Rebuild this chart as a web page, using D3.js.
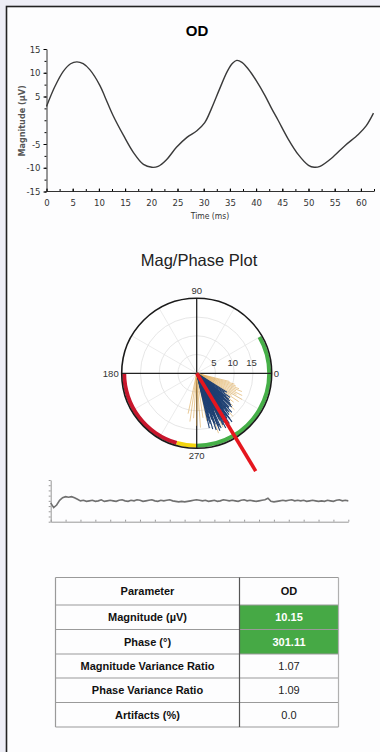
<!DOCTYPE html>
<html>
<head>
<meta charset="utf-8">
<script src="https://cdn.jsdelivr.net/npm/d3@7"></script>
<style>
  body { margin: 0; background: #eeeef6; }
  svg { display: block; }
  .narrow { font-family: "Liberation Sans Narrow", "DejaVu Sans Condensed", "Liberation Sans", sans-serif; }
</style>
</head>
<body>
<script>
// waveform (time in ms, magnitude in uV)
let waveTime = [0, 1.6, 3.2, 4.6, 5.8, 7.0, 8.3, 10.2, 11.2, 12.7, 14.7, 16.6, 18.5, 20.1, 21.3, 22.9, 24.8, 26.8, 28.7, 30.2,
                31.5, 33.0, 34.5, 35.5, 36.3, 37.3, 38.5, 40.0, 41.7, 43.0, 44.2, 46.1, 48.1, 50.0, 51.1, 52.2, 54.4, 57.0, 59.5, 61.0, 62.4];
let waveMag = [2.9, 7.1, 10.3, 11.9, 12.3, 11.9, 10.6, 7.3, 4.8, 1.0, -3.2, -6.8, -9.3, -9.9, -9.7, -8.3, -5.7, -3.6, -2.2, -0.5,
               2.5, 6.5, 10.3, 12.0, 12.6, 12.2, 10.8, 8.4, 5.2, 2.4, 0.0, -3.9, -7.3, -9.5, -9.9, -9.7, -8.0, -5.3, -3.0, -1.2, 1.5];
let xTicks = [0, 5, 10, 15, 20, 25, 30, 35, 40, 45, 50, 55, 60];
let yTickLabels = [15, 10, 5, -5, -10, -15];

// single sweep vectors [phase deg, magnitude]
let blueVectors = [[283,15],[285,14],[286,15.5],[288,13],[289,16],[290,14.5],[291,12],[292,15],[293,13.5],[294,16],
                   [295,11],[296,14],[297,15.5],[298,12.5],[299,14],[300,16],[301,13],[302,15],[303,11.5],[304,14.5],
                   [305,13],[306,15],[307,12],[308,14],[309,10.5],[310,13.5],[311,12],[312,14],[313,11],[314,12.5],
                   [315,10],[316,13],[317,11],[318,12],[319,9.5],[320,11.5],[322,10],[324,11],[326,9],[328,9.5],
                   [287,11],[291,9],[296,10],[300,10.5],[304,9],[308,11],[312,8.5],[294,12],[298,16.5],[302,12],
                   [306,16],[285,12],[284,13],[289,14],[293,15.5],[297,13],[301,15.5],[305,14],[309,13],[313,12.5],
                   [317,12.5],[321,11],[292,16.5],[299,15],[303,16]];
let orangeVectors = [[258,11],[262,13],[266,12],[270,14],[272,10],[274,14.5],[278,12],[282,13],[286,11],[290,17],
                     [296,16],[310,15],[316,14],[318,13],[322,12.5],[326,13.5],[328,11],[330,14],[332,12],[334,13.5],
                     [336,11.5],[338,13],[340,12],[342,11],[344,10.5],[346,9]];
let meanPhase = 301.11;
let meanMag = 10.15;
let ringLabels = [5, 10, 15];
let angleLabels = [0, 90, 180, 270];
// phase zones [from, to, colour]
let zoneFrom = [270, 180, 254];
let zoneTo = [390, 254, 270];
let zoneColor = ["#46b048", "#c8162c", "#f2d40f"];

// noise trace
let traceValues = [3.6, 2.7, 3.2, 4.1, 4.6, 4.8, 4.7, 4.8, 4.6, 4.3, 4.0,
                   4.1, 3.9, 4.0, 4.1, 3.9, 4.0, 4.2, 3.9, 4.0, 4.1, 4.0, 3.9, 4.1, 4.2, 4.0, 3.9, 4.1, 4.0, 4.2, 4.1,
                   3.9, 4.0, 4.1, 4.2, 4.0, 3.9, 4.1, 4.0, 4.1, 4.2, 4.0, 3.9, 3.8, 3.9, 3.8, 3.9, 4.0, 4.1, 4.2, 4.1,
                   4.0, 4.1, 3.9, 4.0, 4.1, 3.9, 4.0, 4.2, 4.1, 4.0, 4.1, 4.0, 3.9, 4.1, 4.2, 4.0, 4.1, 4.0, 3.9, 4.0,
                   4.1, 4.2, 4.5, 3.9, 3.8, 3.9, 4.0, 4.1, 4.0, 4.1, 4.2, 4.0, 4.1, 4.0, 4.1, 3.9, 4.0, 4.1, 4.0, 3.9,
                   4.0, 3.9, 4.1, 4.0, 3.9, 4.1, 4.2, 4.0, 4.1, 4.0];

// results table
let paramLabels = ["Magnitude (µV)", "Phase (°)", "Magnitude Variance Ratio", "Phase Variance Ratio", "Artifacts (%)"];
let paramValues = ["10.15", "301.11", "1.07", "1.09", "0.0"];
let passRows = ["Magnitude (µV)", "Phase (°)"];

let svg = d3.select("body").append("svg")
    .attr("width", 380)
    .attr("height", 752);

// panel
svg.append("rect")
    .attr("x", 6.5).attr("y", 6.5)
    .attr("width", 420).attr("height", 800)
    .attr("fill", "#fdfdfe")
    .attr("stroke", "#222").attr("stroke-width", 1.6);

// ---------- waveform ----------
let x = d3.scaleLinear().domain([0, 62.5]).range([46.5, 374]);
let y = d3.scaleLinear().domain([-15, 15]).range([191.5, 49]);

svg.append("text")
    .attr("x", 197).attr("y", 36)
    .attr("text-anchor", "middle")
    .style("font", "bold 15px 'Liberation Sans', Arial, sans-serif")
    .text("OD");

// minor ticks
let xAxisG = svg.append("g")
    .attr("transform", "translate(0,191.5)")
    .call(d3.axisBottom(x).tickValues(d3.range(0, 63, 2.5)).tickSize(-2.5).tickFormat(""));
xAxisG.select(".domain").remove();
svg.append("g")
    .attr("class", "narrow")
    .attr("transform", "translate(0,191.5)")
    .call(d3.axisBottom(x).tickValues(xTicks).tickSize(-3).tickPadding(8).tickSizeOuter(0)
        .tickFormat(function(d){ return String(d); }))
    .call(g => g.selectAll("text").style("font-size", "9.5px").attr("fill", "#333"))
    .call(g => g.select(".domain").attr("d", "M46.5,0H374").attr("stroke", "#333"));

svg.append("g")
    .attr("transform", "translate(46.5,0)")
    .call(d3.axisLeft(y).tickValues(d3.range(-15, 15.1, 2.5)).tickSize(2).tickFormat(""))
    .call(g => g.select(".domain").remove());
svg.append("g")
    .attr("class", "narrow")
    .attr("transform", "translate(46.5,0)")
    .call(d3.axisLeft(y).tickValues(yTickLabels).tickSize(3).tickPadding(3).tickSizeOuter(0)
        .tickFormat(function(d){ return String(d); }))
    .call(g => g.selectAll("text").style("font-size", "9.5px").attr("fill", "#333"))
    .call(g => g.select(".domain").attr("stroke", "#333"));

// axis titles
svg.append("text")
    .attr("class", "narrow")
    .attr("transform", "translate(25,121) rotate(-90)")
    .attr("text-anchor", "middle")
    .style("font-size", "9px").style("font-weight", "bold").attr("fill", "#555")
    .text("Magnitude (µV)");
svg.append("text")
    .attr("class", "narrow")
    .attr("x", 210).attr("y", 219)
    .attr("text-anchor", "middle")
    .style("font-size", "8.5px").attr("fill", "#333")
    .text("Time (ms)");

let waveLine = d3.line()
    .x(function(d, i){ return x(waveTime[i]); })
    .y(function(d){ return y(d); })
    .curve(d3.curveCatmullRom);
svg.append("path")
    .datum(waveMag)
    .attr("d", waveLine)
    .attr("fill", "none")
    .attr("stroke", "#3a3a3a")
    .attr("stroke-width", 1.4);

// ---------- polar plot ----------
let cx = 196.7, cy = 373.3, R = 75;
let r = d3.scaleLinear().domain([0, 20]).range([0, R]);
let rad = function(a){ return a * Math.PI / 180; };
let px = function(a, m){ return cx + r(m) * Math.cos(rad(a)); };
let py = function(a, m){ return cy - r(m) * Math.sin(rad(a)); };

svg.append("text")
    .attr("x", 199).attr("y", 266)
    .attr("text-anchor", "middle")
    .style("font", "16.5px 'Liberation Sans', Arial, sans-serif")
    .attr("fill", "#222")
    .text("Mag/Phase Plot");

let polar = svg.append("g");

polar.append("circle")
    .attr("cx", cx).attr("cy", cy).attr("r", R)
    .attr("fill", "#fff");

// grid rings and spokes
polar.selectAll(".ring")
    .data(ringLabels)
    .enter().append("circle")
    .attr("cx", cx).attr("cy", cy)
    .attr("r", function(d){ return r(d); })
    .attr("fill", "none").attr("stroke", "#e0e0e0").attr("stroke-width", 0.8);
polar.selectAll(".spoke")
    .data([30, 60, 120, 150, 210, 240, 300, 330])
    .enter().append("line")
    .attr("x1", cx).attr("y1", cy)
    .attr("x2", function(d){ return px(d, 20); })
    .attr("y2", function(d){ return py(d, 20); })
    .attr("stroke", "#e6e6e6").attr("stroke-width", 0.8);

// phase zones
let arc = d3.arc().innerRadius(R - 4.5).outerRadius(R - 0.5);
polar.selectAll(".zone")
    .data(zoneFrom)
    .enter().append("path")
    .attr("transform", "translate(" + cx + "," + cy + ")")
    .attr("d", function(d, i){
        return arc({startAngle: rad(90 - zoneTo[i]), endAngle: rad(90 - d)});
    })
    .attr("fill", function(d, i){ return zoneColor[i]; });

// axes
polar.append("line")
    .attr("x1", cx - R).attr("x2", cx + R).attr("y1", cy).attr("y2", cy)
    .attr("stroke", "#222").attr("stroke-width", 1.3);
polar.append("line")
    .attr("x1", cx).attr("x2", cx).attr("y1", cy - R).attr("y2", cy + R)
    .attr("stroke", "#222").attr("stroke-width", 1.3);
polar.append("circle")
    .attr("cx", cx).attr("cy", cy).attr("r", R)
    .attr("fill", "none").attr("stroke", "#1a1a1a").attr("stroke-width", 1.6);

// vectors
polar.selectAll(".orange")
    .data(orangeVectors)
    .enter().append("line")
    .attr("x1", cx).attr("y1", cy)
    .attr("x2", function(d){ return px(d[0], d[1]); })
    .attr("y2", function(d){ return py(d[0], d[1]); })
    .attr("stroke", "#dfae5c").attr("stroke-width", 0.7).attr("opacity", 0.9);
polar.selectAll(".blue")
    .data(blueVectors)
    .enter().append("line")
    .attr("x1", cx).attr("y1", cy)
    .attr("x2", function(d){ return px(d[0], d[1]); })
    .attr("y2", function(d){ return py(d[0], d[1]); })
    .attr("stroke", "#1d3f72").attr("stroke-width", 1.1);

// ring and angle labels
polar.selectAll(".rlabel")
    .data(ringLabels)
    .enter().append("text")
    .attr("x", function(d){ return r(d) + cx - 1.5; })
    .attr("y", cy - 7)
    .attr("text-anchor", "middle")
    .style("font", "9.5px 'Liberation Sans', Arial, sans-serif")
    .attr("fill", "#333")
    .text(function(d){ return d; });
polar.selectAll(".alabel")
    .data(angleLabels)
    .enter().append("text")
    .attr("x", function(d){ return d == 0 ? cx + R + 2 : d == 180 ? cx - R - 3 : cx; })
    .attr("y", function(d){ return d == 90 ? cy - R - 4 : d == 270 ? cy + R + 11 : cy + 3.5; })
    .attr("text-anchor", function(d){ return d == 0 ? "start" : d == 180 ? "end" : "middle"; })
    .style("font", "9.5px 'Liberation Sans', Arial, sans-serif")
    .attr("fill", "#333")
    .text(function(d){ return d; });

// mean vector (drawn at 3x magnitude)
polar.append("line")
    .attr("x1", cx).attr("y1", cy)
    .attr("x2", px(meanPhase, meanMag * 3))
    .attr("y2", py(meanPhase, meanMag * 3))
    .attr("stroke", "#e5161e").attr("stroke-width", 3.6);

// ---------- noise trace ----------
let tx = d3.scaleLinear().domain([0, 20]).range([50.7, 348.3]);
let ty = d3.scaleLinear().domain([0, 8]).range([521.7, 480]);

svg.append("g")
    .attr("transform", "translate(0,521.7)")
    .call(d3.axisBottom(tx).tickValues(d3.range(0, 21)).tickSize(-2).tickFormat("").tickSizeOuter(0))
    .call(g => g.selectAll("line,path").attr("stroke", "#999"));
svg.append("g")
    .attr("transform", "translate(50.7,0)")
    .call(d3.axisLeft(ty).tickValues(d3.range(0, 9)).tickSize(2).tickFormat("").tickSizeOuter(0))
    .call(g => g.selectAll("line,path").attr("stroke", "#999"));

svg.append("path")
    .datum(traceValues)
    .attr("d", d3.line()
        .x(function(d, i){ return tx(i * 0.2); })
        .y(function(d){ return ty(d); }))
    .attr("fill", "none")
    .attr("stroke", "#707070")
    .attr("stroke-width", 1.6);

// ---------- table ----------
let colX = [55.5, 239.5, 338.5];
let rowY = [577.5, 605, 629.5, 654, 678, 702.5, 727];
let table = svg.append("g").style("font-family", "'Liberation Sans', Arial, sans-serif").style("font-size", "11px");

table.selectAll(".cell")
    .data(paramLabels)
    .enter().append("rect")
    .attr("x", colX[1]).attr("y", function(d, i){ return rowY[i + 1]; })
    .attr("width", colX[2] - colX[1])
    .attr("height", function(d, i){ return rowY[i + 2] - rowY[i + 1]; })
    .attr("fill", function(d){ return passRows.indexOf(d) >= 0 ? "#46a945" : "none"; });

// grid
table.selectAll(".hline")
    .data(rowY)
    .enter().append("line")
    .attr("x1", colX[0]).attr("x2", colX[2])
    .attr("y1", function(d){ return d; }).attr("y2", function(d){ return d; })
    .attr("stroke", "#9a9a9a").attr("stroke-width", 1.2);
table.append("line")
    .attr("x1", colX[0]).attr("x2", colX[0]).attr("y1", rowY[0]).attr("y2", rowY[6])
    .attr("stroke", "#9a9a9a").attr("stroke-width", 1.2);
table.append("line")
    .attr("x1", colX[2]).attr("x2", colX[2]).attr("y1", rowY[0]).attr("y2", rowY[6])
    .attr("stroke", "#b0b0b0").attr("stroke-width", 1.2);
table.append("line")
    .attr("x1", colX[1]).attr("x2", colX[1]).attr("y1", rowY[0]).attr("y2", rowY[6])
    .attr("stroke", "#555").attr("stroke-width", 1.2);

// header
table.append("text")
    .attr("x", (colX[0] + colX[1]) / 2).attr("y", (rowY[0] + rowY[1]) / 2 + 4)
    .attr("text-anchor", "middle").style("font-weight", "bold").attr("fill", "#111")
    .text("Parameter");
table.append("text")
    .attr("x", (colX[1] + colX[2]) / 2).attr("y", (rowY[0] + rowY[1]) / 2 + 4)
    .attr("text-anchor", "middle").style("font-weight", "bold").attr("fill", "#111")
    .text("OD");

table.selectAll(".plabel")
    .data(paramLabels)
    .enter().append("text")
    .attr("x", (colX[0] + colX[1]) / 2)
    .attr("y", function(d, i){ return (rowY[i + 1] + rowY[i + 2]) / 2 + 4; })
    .attr("text-anchor", "middle").style("font-weight", "bold").attr("fill", "#111")
    .text(function(d){ return d; });
table.selectAll(".pvalue")
    .data(paramValues)
    .enter().append("text")
    .attr("x", (colX[1] + colX[2]) / 2)
    .attr("y", function(d, i){ return (rowY[i + 1] + rowY[i + 2]) / 2 + 4; })
    .attr("text-anchor", "middle")
    .style("font-weight", function(d, i){ return passRows.indexOf(paramLabels[i]) >= 0 ? "bold" : "normal"; })
    .attr("fill", function(d, i){ return passRows.indexOf(paramLabels[i]) >= 0 ? "#fff" : "#222"; })
    .text(function(d){ return d; });
</script>
</body>
</html>
